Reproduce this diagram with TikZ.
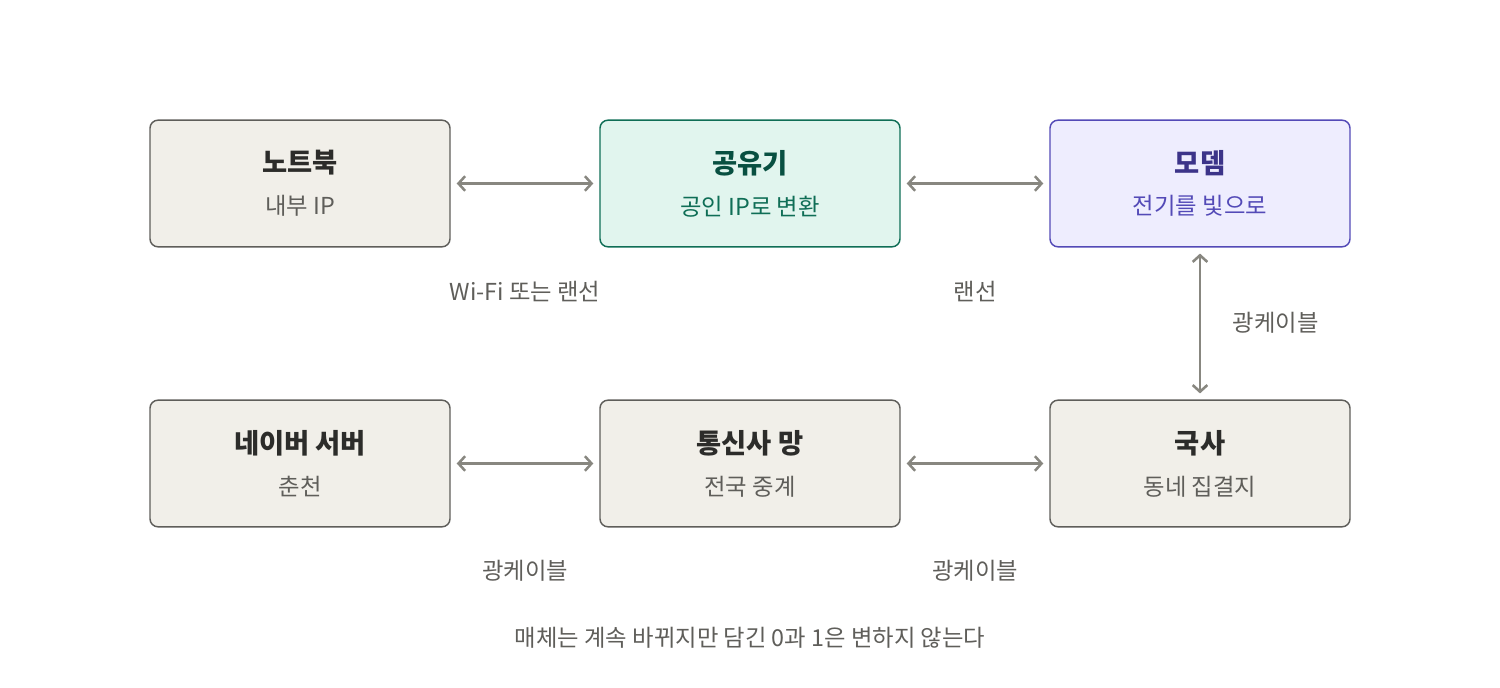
\documentclass[tikz,border=0pt]{standalone}
\usepackage{fontspec}
\setmainfont{Noto Sans CJK KR}
\usetikzlibrary{arrows.meta}

\definecolor{grayfill}{HTML}{F1EFE9}
\definecolor{graydraw}{HTML}{5F5E5A}
\definecolor{graytext}{HTML}{2C2C2A}
\definecolor{greenfill}{HTML}{E1F5EE}
\definecolor{greendraw}{HTML}{0F6E56}
\definecolor{greentext}{HTML}{085041}
\definecolor{purplefill}{HTML}{EEEDFE}
\definecolor{purpledraw}{HTML}{534AB7}
\definecolor{purpletext}{HTML}{3C3489}
\definecolor{linkcol}{HTML}{888780}

\begin{document}
\begin{tikzpicture}[x=0.75pt,y=-0.75pt]
		\tikzstyle{box}=[rectangle,rounded corners=6pt,line width=1.1pt,minimum width=225pt,minimum height=95pt,align=center,inner sep=0pt]
		\tikzstyle{gray box}=[box,fill=grayfill,draw=graydraw]
		\tikzstyle{green box}=[box,fill=greenfill,draw=greendraw]
		\tikzstyle{purple box}=[box,fill=purplefill,draw=purpledraw]
		\tikzstyle{link}=[{Straight Barb[length=5pt,width=11pt]}-{Straight Barb[length=5pt,width=11pt]},draw=linkcol,line width=1.9pt,shorten >=4.5pt,shorten <=4.5pt]
		\tikzstyle{annot}=[font=\fontsize{17.5}{21}\selectfont,text=graydraw]
		\newcommand{\boxtext}[4]{{\color{#1}\fontsize{20.5}{24}\selectfont\bfseries #3}\\[14pt]{\color{#2}\fontsize{17.5}{21}\selectfont #4}}
		
		\useasboundingbox (0,0) rectangle (1500,688);
		
		% Top row
		\node[gray box] (laptop) at (300,183.5) {\boxtext{graytext}{graydraw}{노트북}{내부 IP}};
		\node[green box] (router) at (750,183.5) {\boxtext{greentext}{greendraw}{공유기}{공인 IP로 변환}};
		\node[purple box] (modem) at (1200,183.5) {\boxtext{purpletext}{purpledraw}{모뎀}{전기를 빛으로}};
		
		% Bottom row
		\node[gray box] (server) at (300,463.5) {\boxtext{graytext}{graydraw}{네이버 서버}{춘천}};
		\node[gray box] (backbone) at (750,463.5) {\boxtext{graytext}{graydraw}{통신사 망}{전국 중계}};
		\node[gray box] (office) at (1200,463.5) {\boxtext{graytext}{graydraw}{국사}{동네 집결지}};
		
		% Connections
		\draw[link] (laptop) -- (router);
		\draw[link] (router) -- (modem);
		\draw[link] (modem) -- (office);
		\draw[link] (server) -- (backbone);
		\draw[link] (backbone) -- (office);
		
		% Media labels
		\node[annot] (wifi) at (525,292) {Wi-Fi 또는 랜선};
		\node[annot] (lan) at (975,292) {랜선};
		\node[annot,anchor=west] (fiber1) at (1228,323) {광케이블};
		\node[annot] (fiber2) at (525,571) {광케이블};
		\node[annot] (fiber3) at (975,571) {광케이블};
		
		\node[annot] (caption) at (750,638) {매체는 계속 바뀌지만 담긴 0과 1은 변하지 않는다};
	\end{tikzpicture}
\end{document}
